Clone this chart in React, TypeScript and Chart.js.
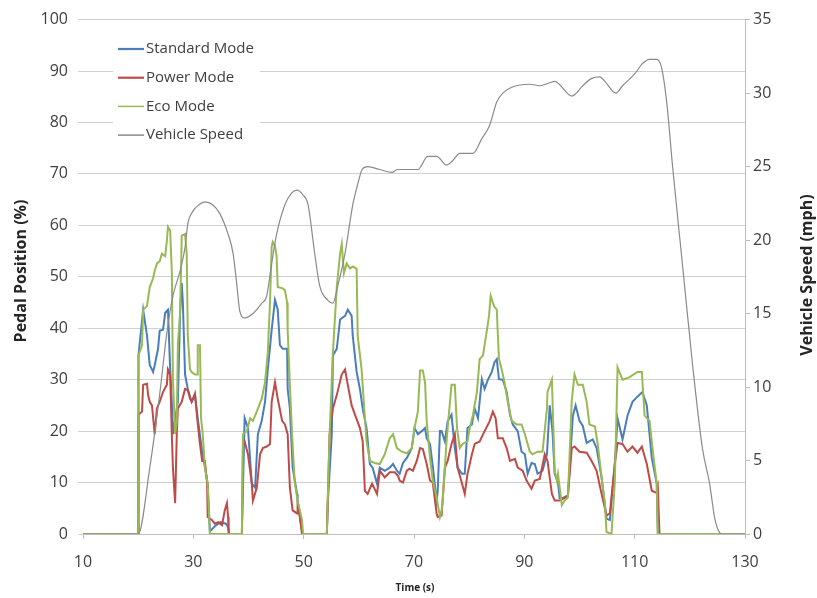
import React, { useEffect, useRef } from 'react';
import { Chart, registerables } from 'chart.js';

Chart.register(...registerables);

const WIDTH = 817;
const HEIGHT = 598;
const FONT = '"Open Sans", "Noto Sans", sans-serif';

// Each sample is [time (s), value]
const standardMode: [number, number][] = [
  [10, 0], [20, 0], [20.05, 34.7], [20.9, 43.6], [21.6, 38.6], [22.1, 32.8], [22.5, 32], [22.7, 31.5], [23.0, 32.8],
  [23.6, 36], [23.9, 39.5], [24.5, 39.7], [24.9, 43], [25.4, 43.6], [25.8, 32], [26.1, 25.7], [26.3, 19.4], [27.0, 24.4],
  [27.2, 25.7], [27.6, 43], [27.9, 48.8], [28.1, 45], [28.5, 31], [29.0, 28.2], [29.7, 25.7], [30.3, 27], [30.8, 22.5],
  [31.6, 16], [32.1, 13], [32.6, 9.8], [33.0, 0.5], [33.9, 1.5], [34.9, 2.3], [35.9, 2], [36.3, 1.3], [36.5, 0], [38.8, 0],
  [39.3, 22.5], [39.9, 20.6], [40.6, 9.8], [41.2, 9], [41.7, 19.4], [42.4, 22], [43.0, 25.7], [43.5, 32], [44.2, 39.7],
  [44.8, 45.5], [45.3, 43.6], [45.7, 36.7], [46.2, 36], [47.0, 36], [47.1, 28.2], [47.5, 24.4], [48.0, 12.9], [48.8, 7.8],
  [48.9, 6.5], [49.7, 0.7], [49.9, 0], [54.2, 0], [54.4, 6.5], [55.1, 19.4], [55.3, 34.7], [56.0, 36], [56.6, 41.7],
  [57.5, 42.4], [58.0, 43.6], [58.7, 42.4], [58.9, 38.5], [59.6, 31.5], [60.2, 28.2], [60.7, 24.4], [61.4, 20.6],
  [62.0, 13.6], [62.5, 12.9], [63.3, 9.8], [63.8, 12.9], [64.7, 12.3], [65.6, 12.9], [66.2, 13.6], [66.9, 12.3],
  [67.4, 11.7], [68.0, 13.8], [68.7, 14.8], [69.6, 16.7], [70.1, 20.6], [70.7, 19.4], [71.4, 20], [72.0, 20.6],
  [72.3, 18.6], [72.9, 17.5], [73.4, 13.2], [74.1, 6.5], [74.3, 8.4], [74.7, 20], [75.0, 20], [75.6, 18], [76.1, 21.9],
  [76.8, 23.2], [77.4, 16.7], [77.9, 12.9], [78.7, 11.7], [79.2, 11.7], [79.7, 20.6], [80.5, 21.3], [81.0, 24.4],
  [81.6, 22.5], [82.3, 30.1], [82.8, 28.2], [83.4, 30], [84.1, 31.5], [84.6, 33.4], [85.0, 34], [85.4, 30.1], [86.1, 30],
  [86.8, 27.6], [87.4, 23.2], [87.9, 21.3], [88.8, 20], [89.5, 16], [90.1, 15.5], [90.6, 11.7], [91.3, 13.8],
  [91.9, 13.6], [92.4, 11.7], [93.3, 12.3], [94.1, 15.5], [94.6, 25], [95.1, 20], [95.5, 11.7], [96.1, 10], [96.4, 7],
  [97.0, 7], [97.9, 7.5], [98.8, 23], [99.3, 25], [100.0, 22], [100.6, 21], [101.3, 17.7], [102.4, 18.4], [103.1, 16.7],
  [104.0, 11], [104.9, 3], [105.5, 2.7], [106.4, 13.6], [106.9, 22.5], [107.8, 18.4], [108.7, 23], [109.6, 25.7],
  [110.5, 26.7], [111.4, 27.6], [112.2, 25], [113.1, 14.8], [114.0, 9.8], [114.2, 0], [130, 0],
];

const powerMode: [number, number][] = [
  [10, 0], [20, 0], [20.05, 23.2], [20.7, 23.8], [20.9, 29], [21.6, 29.2], [21.8, 27], [22.1, 25.7], [22.5, 25],
  [23.0, 19.4], [23.4, 24.4], [23.9, 25.7], [24.5, 27.6], [25.2, 29], [25.4, 32], [25.8, 31], [26.1, 19.4], [26.3, 12.9],
  [26.7, 6], [27.0, 19.4], [27.2, 24.4], [27.9, 25.7], [28.5, 28.2], [29.0, 28], [29.4, 26.3], [29.7, 25.7], [30.3, 27.3],
  [30.7, 22.5], [31.2, 17.5], [31.6, 14.2], [32.1, 14.2], [32.5, 9.8], [32.6, 3.3], [33.4, 2.7], [33.9, 2], [34.5, 2.3],
  [35.2, 1.7], [35.7, 4.6], [36.1, 6], [36.3, 3.3], [36.4, 0], [38.8, 0], [39.0, 17.5], [39.3, 18], [39.9, 15.5],
  [40.6, 9.8], [40.8, 6.5], [41.5, 9], [42.1, 15.5], [42.6, 16.7], [43.3, 17], [43.9, 17.5], [44.2, 25.7], [44.8, 29.5],
  [45.3, 26.3], [46.1, 22], [46.6, 21.3], [47.1, 19.4], [47.5, 9], [48.0, 4.6], [48.8, 4], [48.9, 6.5], [49.7, 0],
  [54.2, 0], [54.7, 19.4], [55.3, 24.4], [56.0, 27], [56.9, 31], [57.5, 32], [58.0, 29], [58.7, 25], [59.3, 23.2],
  [60.2, 20.6], [60.7, 18], [61.1, 8.4], [61.6, 7.8], [62.4, 9.8], [63.3, 7.8], [63.8, 12.3], [64.7, 11], [65.6, 12],
  [66.5, 12], [67.1, 11.3], [67.4, 10.4], [68.0, 10], [68.7, 12.3], [69.2, 12.7], [69.8, 12.3], [70.5, 14.2],
  [71.1, 16.7], [71.6, 16.5], [72.3, 13.6], [72.9, 10.4], [73.4, 10], [74.1, 4], [74.3, 3.3], [75.0, 3.6], [75.6, 12.9],
  [76.1, 14.2], [76.8, 17.5], [77.4, 19.4], [77.9, 12.9], [78.7, 9.8], [79.2, 7.8], [79.7, 11.7], [80.5, 15.5],
  [81.0, 17.5], [81.9, 18], [82.8, 20], [83.7, 21.9], [84.3, 23.8], [84.8, 22.5], [85.2, 18.6], [86.1, 18.6],
  [86.8, 16.7], [87.4, 14.2], [88.3, 14.6], [88.8, 12.9], [89.7, 12.3], [90.4, 10.4], [91.3, 8.8], [91.9, 10.4],
  [92.8, 10.7], [93.7, 15.5], [94.2, 14.2], [95.0, 7.8], [95.5, 6.5], [96.4, 6.5], [97.3, 7], [97.9, 7.5], [98.6, 16.7],
  [99.1, 17], [100.0, 16], [101.3, 15.8], [102.2, 14.2], [103.1, 12.3], [104.0, 7.8], [104.9, 3.6], [105.5, 4],
  [106.4, 13.6], [106.9, 17.7], [107.8, 17.5], [108.7, 16], [109.6, 17], [110.5, 15.8], [111.3, 17], [112.2, 13.6],
  [113.1, 8.4], [114.0, 8], [114.2, 9], [114.5, 0], [130, 0],
];

const ecoMode: [number, number][] = [
  [10, 0], [20, 0], [20.05, 34.7], [20.7, 36.7], [20.9, 43.6], [21.6, 44.3], [22.1, 48], [22.7, 49.7], [23.0, 51.2],
  [23.4, 52.6], [23.9, 53], [24.3, 54.5], [24.9, 54], [25.2, 57], [25.4, 59.7], [25.8, 59], [26.1, 51], [26.3, 30],
  [26.7, 19.4], [27.0, 21.9], [27.2, 37], [27.6, 43], [27.9, 58], [28.5, 58.3], [28.8, 54.5], [29.0, 38.5], [29.4, 32],
  [29.7, 31.5], [30.3, 31], [30.7, 31], [30.8, 36.7], [31.2, 36.7], [31.4, 22.5], [31.7, 19.4], [32.1, 12.9], [32.6, 9.8],
  [33.0, 0], [38.8, 0], [39.0, 19.4], [39.7, 20], [40.3, 22.5], [40.8, 22], [41.5, 23.8], [42.4, 26.3], [43.0, 29.5],
  [43.5, 35.3], [43.9, 45], [44.2, 55.8], [44.4, 56.8], [44.8, 56], [45.1, 54], [45.3, 48], [46.1, 47.8], [46.6, 47.4],
  [47.0, 45], [47.1, 39.7], [47.5, 29], [47.9, 19.4], [48.4, 9.8], [48.9, 6.5], [49.7, 2.7], [49.9, 0], [54.2, 0],
  [54.7, 19.4], [55.3, 35.3], [56.0, 48], [56.6, 54.5], [56.9, 56.4], [57.3, 50.7], [57.8, 52.6], [58.4, 51.6], [58.9, 52],
  [59.6, 51.6], [59.8, 38.5], [60.5, 32], [61.1, 22.5], [61.4, 18], [62.0, 14.2], [62.9, 13.8], [63.8, 13.6],
  [64.7, 15.5], [65.6, 18.6], [66.2, 19.4], [66.9, 16.7], [67.8, 16], [68.7, 15.7], [69.6, 16.7], [70.1, 20.6],
  [70.7, 23.8], [71.1, 31.8], [71.6, 31.8], [72.0, 29.5], [72.3, 22], [72.9, 14.8], [73.4, 10.4], [74.1, 7.1],
  [74.7, 3.3], [75.0, 4.6], [75.2, 6.5], [75.9, 18], [76.1, 20.6], [76.8, 29], [77.4, 29], [77.8, 20.6], [78.3, 16.7],
  [78.8, 17.5], [79.7, 18], [80.1, 20.6], [80.7, 23.2], [81.4, 27.6], [81.9, 34], [82.5, 34.7], [83.2, 39.5], [83.6, 42.4],
  [83.9, 46.3], [84.5, 44.3], [85.0, 43.6], [85.4, 34], [85.9, 32], [86.4, 29.5], [87.0, 25.7], [87.7, 22], [88.6, 21.3],
  [89.5, 21.3], [90.1, 19.4], [91.0, 16], [91.5, 15.5], [92.4, 16], [93.3, 16], [94.1, 24.4], [94.2, 27.6], [95.0, 30],
  [95.1, 26.3], [95.5, 12.3], [95.9, 10.4], [96.1, 11.7], [96.8, 5.6], [97.3, 6.5], [97.9, 7.1], [98.6, 26], [99.1, 31],
  [99.7, 29], [100.6, 29], [101.3, 25.7], [101.8, 21.3], [102.8, 20.9], [103.3, 17.5], [104.0, 11], [104.6, 6],
  [104.9, 0.4], [105.8, 0], [106.4, 10], [106.9, 32.4], [107.8, 30], [109.1, 30.5], [110.5, 31.5], [111.3, 31.5],
  [111.8, 23], [112.7, 22], [113.3, 16], [114.0, 9.8], [114.2, 0], [130, 0],
];

// [time (s), speed (mph)]
const vehicleSpeed: [number, number][] = [
  [10, 0], [20, 0], [22.1, 4.5], [23.9, 9.5], [25.2, 13.7], [26.3, 16.2], [27.6, 17.9], [28.5, 19.5], [29.0, 21.1],
  [30.0, 22.0], [31.0, 22.4], [32.1, 22.6], [33.5, 22.4], [34.8, 21.8], [36.3, 20.4], [37.2, 19.1], [37.9, 16.9],
  [38.4, 15.2], [39.3, 14.7], [40.8, 15.0], [42.4, 15.7], [43.3, 16.2], [44.2, 18.4], [45.1, 20.4], [46.6, 22.4],
  [47.8, 23.2], [48.8, 23.4], [49.8, 23.1], [50.8, 22.4], [52.0, 19.1], [52.9, 16.9], [54.4, 15.9], [55.3, 15.7],
  [56.2, 16.9], [57.5, 19.1], [58.9, 22.4], [59.8, 23.8], [60.6, 24.8], [61.6, 25.0], [63.8, 24.8], [66.0, 24.6],
  [67.0, 24.8], [70.7, 24.8], [72.5, 25.7], [74.1, 25.7], [75.9, 25.1], [77.0, 25.4], [78.3, 25.9], [80.7, 25.9],
  [82.3, 26.9], [83.7, 27.8], [85.0, 29.4], [86.1, 30.0], [87.7, 30.4], [91.0, 30.6], [92.8, 30.5], [94.6, 30.7],
  [95.5, 30.8], [98.6, 29.8], [100.6, 30.5], [102.2, 31.0], [103.7, 31.1], [104.6, 30.8], [106.6, 30.0], [107.8, 30.5],
  [110.0, 31.3], [111.4, 32.0], [112.7, 32.3], [114.0, 32.3], [114.9, 31.7], [115.8, 29.4], [116.9, 24.9], [118.7, 18.2],
  [120.5, 11.5], [122.3, 5.8], [123.6, 3.4], [124.5, 1.1], [125.4, 0.1], [126, 0], [130, 0],
];

const seriesLabels = ['Standard Mode', 'Power Mode', 'Eco Mode', 'Vehicle Speed'];
const seriesColors = ['#4a7ebb', '#be4b48', '#98b954', '#8a8a8a'];
const seriesWidths = [2, 2, 2, 1.2];

const timeRange = [10, 130];
const pedalRange = [0, 100];
const speedRange = [0, 35];

const toPoints = (rows: [number, number][]) => rows.map(([x, y]) => ({ x, y }));

// Legend box, axis titles drawn on the canvas
const overlayPlugin = {
  id: 'overlay',
  beforeDatasetsDraw(chart: any) {
    const ctx = chart.ctx;
    ctx.save();
    ctx.fillStyle = '#ffffff';
    ctx.fillRect(113, 28, 147, 122);
    ctx.restore();
  },
  afterDraw(chart: any) {
    const ctx = chart.ctx;
    ctx.save();
    chart.data.datasets.forEach((ds: any, i: number) => {
      const y = 49 + i * 28.7;
      ctx.strokeStyle = ds.borderColor;
      ctx.lineWidth = i < 2 ? 2.2 : 1.5;
      ctx.beginPath();
      ctx.moveTo(118, y);
      ctx.lineTo(144, y);
      ctx.stroke();
      ctx.fillStyle = '#404040';
      ctx.font = `15px ${FONT}`;
      ctx.textAlign = 'left';
      ctx.textBaseline = 'middle';
      ctx.fillText(ds.label, 146, y);
    });

    ctx.fillStyle = '#262626';
    ctx.textAlign = 'center';
    ctx.textBaseline = 'middle';

    ctx.font = `bold 16px ${FONT}`;
    ctx.save();
    ctx.translate(21, 271);
    ctx.rotate(-Math.PI / 2);
    ctx.fillText('Pedal Position (%)', 0, 0);
    ctx.restore();

    ctx.save();
    ctx.translate(807, 275);
    ctx.rotate(-Math.PI / 2);
    ctx.fillText('Vehicle Speed (mph)', 0, 0);
    ctx.restore();

    ctx.font = `bold 10px ${FONT}`;
    ctx.fillText('Time (s)', 415, 588);
    ctx.restore();
  },
};

export default function App() {
  const canvasRef = useRef<HTMLCanvasElement>(null);

  useEffect(() => {
    const canvas = canvasRef.current;
    if (!canvas) return;
    const sources = [standardMode, powerMode, ecoMode, vehicleSpeed];
    const chart = new Chart(canvas, {
      type: 'line',
      data: {
        datasets: sources.map((rows, i) => ({
          label: seriesLabels[i],
          data: toPoints(rows),
          borderColor: seriesColors[i],
          backgroundColor: seriesColors[i],
          borderWidth: seriesWidths[i],
          pointRadius: 0,
          tension: 0,
          cubicInterpolationMode: i === 3 ? 'monotone' : 'default',
          fill: false,
          yAxisID: i === 3 ? 'y1' : 'y',
          order: 3 - i,
        })),
      },
      options: {
        responsive: false,
        animation: false,
        devicePixelRatio: 1,
        layout: { padding: { top: 13, left: 0, right: 0, bottom: 0 } },
        plugins: {
          legend: { display: false },
          tooltip: { enabled: false },
        },
        scales: {
          x: {
            type: 'linear',
            min: timeRange[0],
            max: timeRange[1],
            border: { display: true, color: '#bdbdbd', width: 1 },
            grid: { drawOnChartArea: false, drawTicks: true, tickLength: 5, color: '#bdbdbd' },
            ticks: {
              stepSize: 20,
              padding: 14,
              color: '#404040',
              font: { family: FONT, size: 16 },
              maxRotation: 0,
            },
            afterFit: (scale: any) => {
              scale.height = 64;
            },
          },
          y: {
            position: 'left',
            min: pedalRange[0],
            max: pedalRange[1],
            border: { display: false },
            grid: { color: '#d0d0d0', tickLength: 5, drawTicks: true },
            ticks: {
              stepSize: 10,
              padding: 10,
              color: '#404040',
              font: { family: FONT, size: 16 },
            },
            afterFit: (scale: any) => {
              scale.width = 83;
            },
          },
          y1: {
            position: 'right',
            min: speedRange[0],
            max: speedRange[1],
            border: { display: true, color: '#bdbdbd', width: 1 },
            grid: { drawOnChartArea: false, drawTicks: true, tickLength: 5, color: '#bdbdbd' },
            ticks: {
              stepSize: 5,
              padding: 3,
              color: '#404040',
              font: { family: FONT, size: 16 },
            },
            afterFit: (scale: any) => {
              scale.width = 72;
            },
          },
        },
      },
      plugins: [overlayPlugin],
    });
    return () => chart.destroy();
  }, []);

  return (
    <div style={{ position: 'fixed', left: 0, top: 0, width: WIDTH, height: HEIGHT, background: '#ffffff' }}>
      <canvas ref={canvasRef} width={WIDTH} height={HEIGHT} style={{ width: WIDTH, height: HEIGHT, display: 'block' }} />
    </div>
  );
}
